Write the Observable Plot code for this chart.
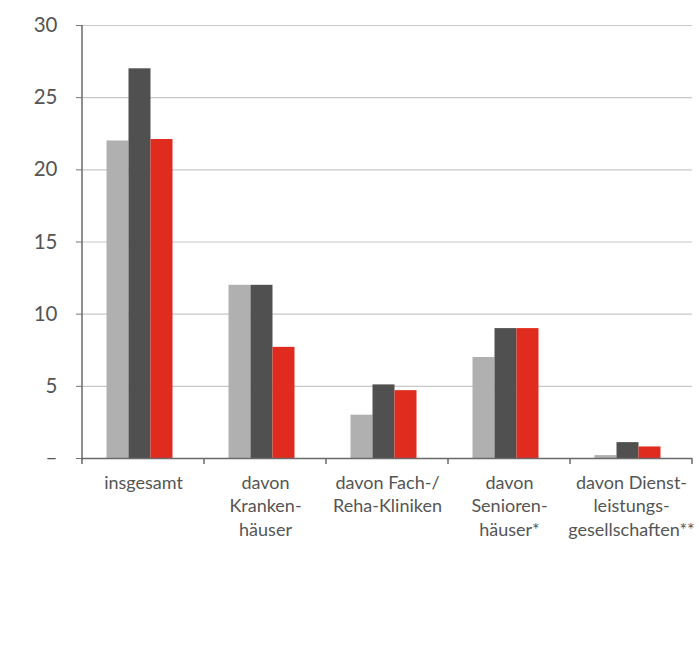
<!DOCTYPE html>
<html>
<head>
<meta charset="utf-8">
<script src="https://cdn.jsdelivr.net/npm/d3@7"></script>
<script src="https://cdn.jsdelivr.net/npm/@observablehq/plot@0.6"></script>
<style>
  html, body { margin: 0; padding: 0; background: #fff; }
</style>
</head>
<body>
<div id="chart"></div>
<script>
const categories = [
  "insgesamt",
  "davon\nKranken-\nhäuser",
  "davon Fach-/\nReha-Kliniken",
  "davon\nSenioren-\nhäuser*",
  "davon Dienst-\nleistungs-\ngesellschaften**"
];
const seriesNames = ["Reihe 1", "Reihe 2", "Reihe 3"];
const values1 = [22, 12, 3, 7, 0.2];
const values2 = [27, 12, 5.1, 9, 1.1];
const values3 = [22.1, 7.7, 4.7, 9, 0.8];
const seriesColors = ["#b0b0b0", "#505050", "#e02b1f"];
const yTicks = [0, 5, 10, 15, 20, 25, 30];

const allValues = [values1, values2, values3];
const data = [];
categories.forEach((c, i) => {
  seriesNames.forEach((s, j) => {
    data.push({category: c, series: s, value: allValues[j][i]});
  });
});

const font = "Lato, 'Open Sans', sans-serif";
const plot = Plot.plot({
  width: 699,
  height: 648,
  marginLeft: 82,
  marginRight: 7,
  marginTop: 25,
  marginBottom: 190,
  style: {fontFamily: font, background: "#fff", overflow: "visible"},
  fx: {domain: categories, padding: 0, label: null, axis: null},
  x: {domain: seriesNames, paddingInner: 0, paddingOuter: 1.23, axis: null},
  y: {domain: [0, 30], label: null, axis: null},
  color: {domain: seriesNames, range: seriesColors},
  marks: [
    Plot.gridY(yTicks.filter(d => d > 0), {stroke: "#c8c8c8", strokeOpacity: 1, strokeWidth: 1.2}),
    Plot.barY(data, {fx: "category", x: "series", y: "value", fill: "series", dx: -3.5}),
    Plot.axisY(yTicks, {
      tickSize: 6, tickPadding: 19,
      tickFormat: d => d === 0 ? "–" : String(d),
      fontSize: 20.5, fill: "#555", stroke: "#777", label: null
    }),
    Plot.axisFx({
      anchor: "bottom", tickSize: 0, tickPadding: 13,
      fontSize: 18, lineHeight: 1.33, fill: "#555", label: null
    }),
    Plot.ruleY([0], {stroke: "#6a6a6a", strokeWidth: 1.5})
  ]
});
document.getElementById("chart").appendChild(plot);

// axis line and category boundary ticks drawn from the plot's own scales
const fx = plot.scale("fx");
const y = plot.scale("y");
const svg = d3.select(plot);
const x0 = fx.range[0];
svg.append("line")
  .attr("x1", x0).attr("x2", x0)
  .attr("y1", y.apply(30)).attr("y2", y.apply(0) + 2)
  .attr("stroke", "#6a6a6a").attr("stroke-width", 1.5);
const bounds = categories.map(c => fx.apply(c)).concat([fx.apply(categories[categories.length - 1]) + fx.bandwidth]);
svg.append("g").selectAll("line").data(bounds).join("line")
  .attr("x1", d => d).attr("x2", d => d)
  .attr("y1", y.apply(0)).attr("y2", y.apply(0) + 6)
  .attr("stroke", "#6a6a6a").attr("stroke-width", 1.5);
</script>
</body>
</html>
